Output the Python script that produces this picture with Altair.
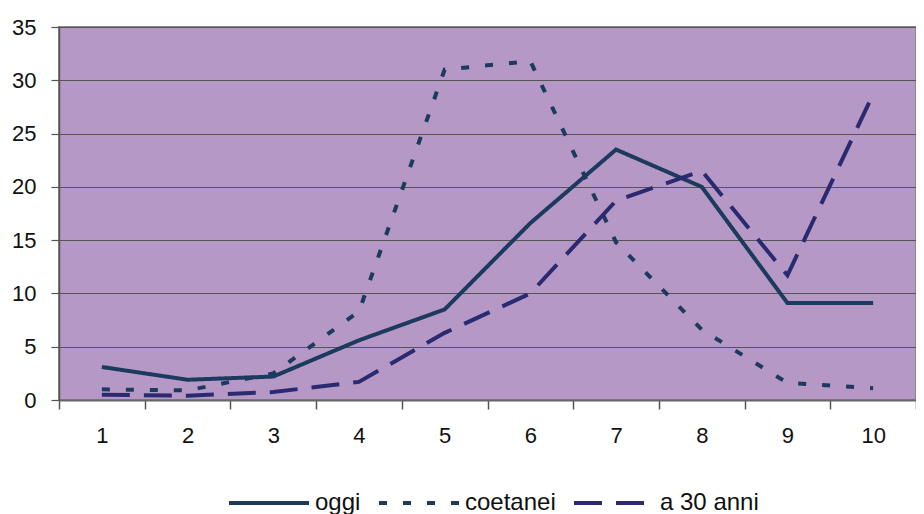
import altair as alt
import pandas as pd

categories = [1, 2, 3, 4, 5, 6, 7, 8, 9, 10]
series_names = ["oggi", "coetanei", "a 30 anni"]
oggi = [3.1, 1.9, 2.2, 5.6, 8.5, 16.6, 23.5, 20.0, 9.1, 9.1]
coetanei = [1.0, 0.9, 2.5, 8.3, 31.0, 31.8, 14.8, 6.6, 1.6, 1.1]
a30 = [0.5, 0.4, 0.75, 1.7, 6.3, 10.0, 18.7, 21.5, 11.7, 28.7]
y_ticks = [0, 5, 10, 15, 20, 25, 30, 35]

rows = []
for name, vals in zip(series_names, [oggi, coetanei, a30]):
    for c, v in zip(categories, vals):
        rows.append({"cat": c, "val": v, "serie": name})
df = pd.DataFrame(rows)

FONT = "Liberation Sans"
line_colors = ["#1B3A5E", "#1B3A5E", "#2A2A70"]
dashes = [[1, 0], [8, 16], [28, 14]]

leg = alt.Legend(title=None, orient="none", legendX=168, legendY=434,
                 direction="horizontal")

chart = alt.Chart(df).mark_line(strokeWidth=4, strokeCap="butt").encode(
    x=alt.X("cat:O", bandPosition=0.5,
            scale=alt.Scale(type="band", paddingInner=0, paddingOuter=0),
            axis=alt.Axis(title=None, labelAngle=0, tickBand="extent",
                          tickSize=9, tickColor="#555", tickWidth=1.5,
                          domainColor="#666", domainWidth=2,
                          labelFontSize=22, labelPadding=16, grid=False,
                          labelColor="#111", labelFont=FONT)),
    y=alt.Y("val:Q", scale=alt.Scale(domain=[0, 35], nice=False, zero=True),
            axis=alt.Axis(title=None, values=y_ticks, grid=True,
                          gridColor="#555", gridWidth=1.2,
                          tickSize=8, tickColor="#555", tickWidth=1.2,
                          domainColor="#555", domainWidth=1.5,
                          labelFontSize=22, labelPadding=15,
                          labelColor="#111", labelFont=FONT)),
    color=alt.Color("serie:N", sort=series_names,
                    scale=alt.Scale(domain=series_names, range=line_colors),
                    legend=leg),
    strokeDash=alt.StrokeDash("serie:N", sort=series_names,
                              scale=alt.Scale(domain=series_names, range=dashes),
                              legend=leg),
).properties(
    width=857, height=373,
    autosize=alt.AutoSizeParams(type="none"),
    padding={"left": 51, "top": 19, "right": 0, "bottom": 114},
).configure_view(
    fill="#B598C6", stroke="#888", strokeWidth=2
).configure_legend(
    symbolType="stroke", symbolSize=6400, symbolStrokeWidth=4,
    labelFontSize=24, labelFont=FONT, labelColor="#111", labelOffset=4,
    columnPadding=10, labelLimit=300
)

chart.save("out.html", embed_options={"renderer": "svg", "actions": False})
